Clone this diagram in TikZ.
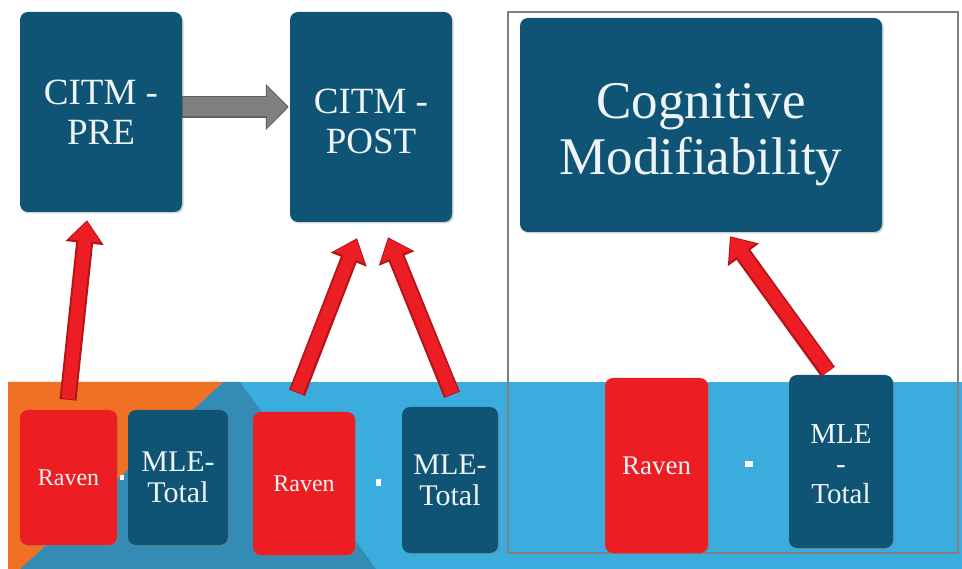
\documentclass[tikz,border=0pt]{standalone}
\usepackage{fontspec}
\setmainfont{Liberation Serif}
\usetikzlibrary{arrows.meta,shadows}
\definecolor{navy}{RGB}{15,84,117}
\definecolor{boxred}{RGB}{236,30,36}
\definecolor{darkred}{RGB}{180,20,24}
\definecolor{bandblue}{RGB}{58,173,222}
\definecolor{bandteal}{RGB}{52,140,180}
\definecolor{bandorange}{RGB}{240,112,36}
\definecolor{txt}{RGB}{238,244,246}
\definecolor{arrgray}{RGB}{128,128,128}
\definecolor{arrgraydk}{RGB}{95,95,95}
\tikzset{
  basebox/.style={rounded corners=8pt, inner sep=0pt, align=center, text=txt,
    drop shadow={shadow xshift=1.5pt, shadow yshift=-1.5pt, opacity=0.35}},
  navybox/.style={basebox, fill=navy},
  redbox/.style={basebox, fill=boxred},
  bigtext/.style={font=\fontsize{37}{40}\selectfont},
  cogtext/.style={font=\fontsize{53}{56}\selectfont},
  midtext/.style={font=\fontsize{30}{31}\selectfont},
  raventext/.style={font=\fontsize{24}{28}\selectfont},
  redarrowout/.style={draw=darkred, line width=17pt, -{Triangle[width=37pt,length=23pt]}},
  redarrowin/.style={draw=boxred, line width=13pt, -{Triangle[width=31pt,length=19pt]}, shorten >=1.8pt},
  dotmark/.style={fill=white, inner sep=0pt},
}
\begin{document}
\begin{tikzpicture}[x=1pt,y=-1pt]
\useasboundingbox (0,0) rectangle (962,569);
% background band
\fill[bandblue] (8,382) rectangle (962,569);
\fill[bandteal] (223,382) -- (240,382) -- (376,569) -- (20,569) -- cycle;
\fill[bandorange] (8,382) -- (223,382) -- (20,569) -- (8,569) -- cycle;
% frame
\draw[arrgray, line width=1.2pt] (508,12) rectangle (958,553);
% top boxes
\node[navybox, bigtext, minimum width=162pt, minimum height=200pt] (pre) at (101,112) {CITM -\\PRE};
\node[navybox, bigtext, minimum width=162pt, minimum height=210pt] (post) at (371,117) {\rule{0pt}{34pt}CITM -\\POST};
\node[navybox, cogtext, minimum width=362pt, minimum height=214pt] (cog) at (701,125) {\rule{0pt}{54pt}Cognitive\\Modifiability};
% bottom boxes
\node[redbox, raventext, minimum width=97pt, minimum height=135pt] (raven1) at (68.5,477.5) {Raven};
\node[navybox, midtext, minimum width=100pt, minimum height=135pt] (mle1) at (178,477.5) {MLE-\\Total};
\node[redbox, raventext, minimum width=102pt, minimum height=143pt] (raven2) at (304,483.5) {Raven};
\node[navybox, midtext, minimum width=96pt, minimum height=146pt] (mle2) at (450,480) {MLE-\\Total};
\node[redbox, font=\fontsize{27}{30}\selectfont, minimum width=103pt, minimum height=175pt] (raven3) at (656.5,465.5) {Raven};
\node[navybox, font=\fontsize{29}{30}\selectfont, minimum width=104pt, minimum height=173pt] (mle3) at (841,461.5) {\rule{0pt}{24pt}MLE\\-\\Total};
% small marks
\node[dotmark, minimum width=4pt, minimum height=5pt] (dot1) at (122,477) {};
\node[dotmark, minimum width=5pt, minimum height=7pt] (dot2) at (378,482) {};
\node[dotmark, minimum width=8pt, minimum height=5pt] (dot3) at (749,464) {};
% gray arrow
\draw[arrgraydk, line width=22pt, -{Triangle[width=45pt,length=23pt]}] ([shift={(0,-5)}]pre.east) -- ([shift={(-1,-10)}]post.west);
\draw[arrgray, line width=19pt, -{Triangle[width=40pt,length=20pt]}, shorten >=1.6pt] ([shift={(1,-5)}]pre.east) -- ([shift={(-1,-10)}]post.west);
% red arrows
\draw[redarrowout] ([shift={(-0.5,-10)}]raven1.north) -- ([shift={(-14,8)}]pre.south);
\draw[redarrowin]  ([shift={(-0.5,-11)}]raven1.north) -- ([shift={(-14,8)}]pre.south);
\draw[redarrowout] ([shift={(-7,-19)}]raven2.north) -- ([shift={(-14,16)}]post.south);
\draw[redarrowin]  ([shift={(-7,-20)}]raven2.north) -- ([shift={(-14,16)}]post.south);
\draw[redarrowout] ([shift={(2,-12)}]mle2.north) -- ([shift={(17,15)}]post.south);
\draw[redarrowin]  ([shift={(2,-13)}]mle2.north) -- ([shift={(17,15)}]post.south);
\draw[redarrowout] ([shift={(-13,-3)}]mle3.north) -- ([shift={(29,4)}]cog.south);
\draw[redarrowin]  ([shift={(-13,-4)}]mle3.north) -- ([shift={(29,4)}]cog.south);
\end{tikzpicture}
\end{document}
